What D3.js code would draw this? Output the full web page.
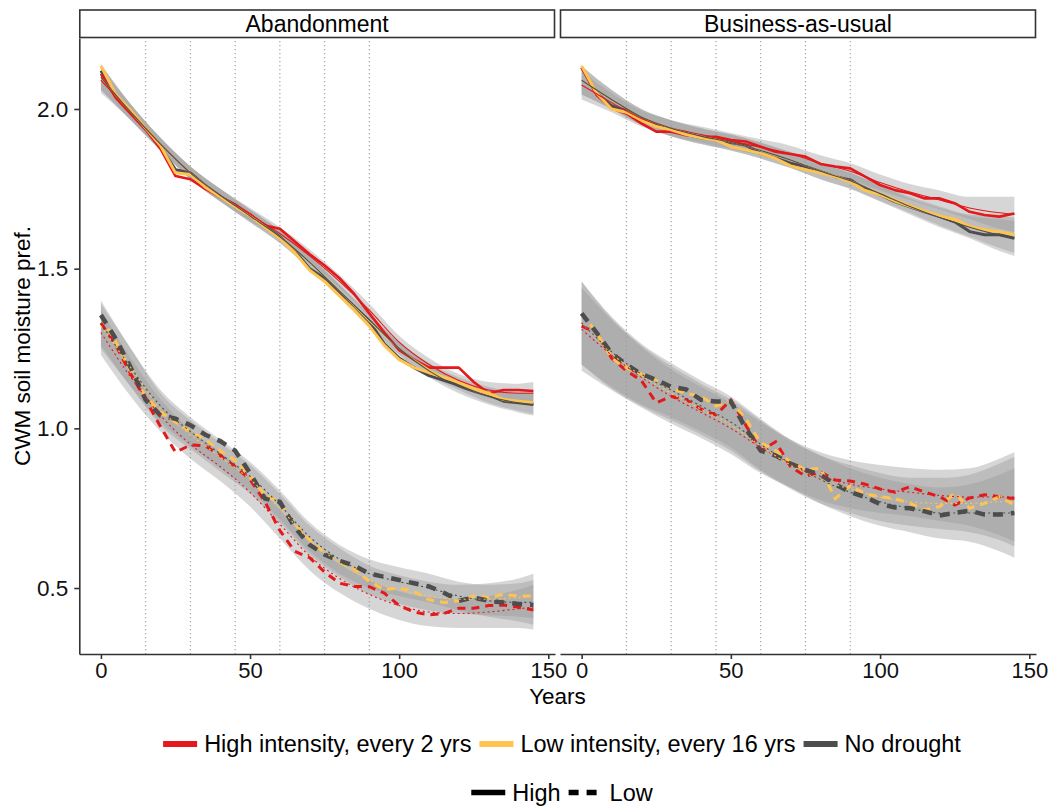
<!DOCTYPE html>
<html>
<head>
<meta charset="utf-8">
<script src="https://cdn.jsdelivr.net/npm/d3@7"></script>
<style>
  body { margin: 0; background: #fff; }
  svg { font-family: "Liberation Sans", Arial, sans-serif; }
</style>
</head>
<body>
<div id="chart"></div>
<script>
// time steps of the simulation (mean lines)
const years = [0, 5, 10, 15, 20, 25, 30, 35, 40, 45, 50, 55, 60, 65, 70, 75, 80, 85, 90, 95, 100, 105, 110, 115, 120, 125, 130, 135, 140, 145];
const fitYears = [0, 10, 20, 30, 40, 50, 60, 70, 80, 90, 100, 110, 120, 130, 140, 145];

const panelNames = ["Abandonment", "Business-as-usual"];
const scenarios = ["High intensity, every 2 yrs", "Low intensity, every 16 yrs", "No drought"];
const levels = ["High", "Low"];
const xTicks = [0, 50, 100, 150];
const yTicks = [0.5, 1.0, 1.5, 2.0];
const vlineYears = [15, 30, 45, 60, 75, 90];

// ---- Abandonment, High ----
const abnHighRed = [2.11, 2.035, 1.985, 1.935, 1.875, 1.79, 1.78, 1.75, 1.725, 1.70, 1.67, 1.635, 1.625, 1.585, 1.545, 1.51, 1.47, 1.42, 1.36, 1.30, 1.245, 1.215, 1.19, 1.19, 1.19, 1.145, 1.11, 1.12, 1.12, 1.117];
const abnHighYellow = [2.135, 2.045, 1.995, 1.94, 1.885, 1.80, 1.795, 1.755, 1.725, 1.695, 1.665, 1.63, 1.595, 1.55, 1.495, 1.46, 1.415, 1.37, 1.32, 1.26, 1.215, 1.19, 1.175, 1.16, 1.145, 1.125, 1.11, 1.09, 1.085, 1.08];
const abnHighGrey = [2.12, 2.04, 1.99, 1.94, 1.88, 1.81, 1.80, 1.76, 1.725, 1.70, 1.665, 1.635, 1.60, 1.555, 1.50, 1.47, 1.425, 1.38, 1.335, 1.265, 1.22, 1.19, 1.165, 1.15, 1.135, 1.12, 1.105, 1.085, 1.08, 1.075];
const abnHighRedFit = [2.09, 1.99, 1.89, 1.80, 1.73, 1.67, 1.61, 1.54, 1.46, 1.37, 1.27, 1.20, 1.15, 1.12, 1.11, 1.11];
const abnHighYellowFit = [2.10, 1.99, 1.89, 1.80, 1.73, 1.665, 1.60, 1.52, 1.43, 1.335, 1.25, 1.185, 1.14, 1.105, 1.085, 1.08];
const abnHighGreyFit = [2.10, 1.99, 1.89, 1.80, 1.73, 1.665, 1.60, 1.52, 1.43, 1.34, 1.25, 1.18, 1.13, 1.10, 1.08, 1.075];
const abnHighBand = [0.04, 0.025, 0.02, 0.02, 0.02, 0.02, 0.02, 0.02, 0.02, 0.02, 0.02, 0.02, 0.02, 0.025, 0.03, 0.035];

// ---- Abandonment, Low ----
const abnLowRed = [1.33, 1.26, 1.17, 1.09, 1.005, 0.925, 0.948, 0.945, 0.915, 0.88, 0.84, 0.77, 0.68, 0.615, 0.595, 0.55, 0.515, 0.505, 0.504, 0.484, 0.445, 0.425, 0.416, 0.42, 0.437, 0.437, 0.445, 0.447, 0.44, 0.431];
const abnLowYellow = [1.35, 1.27, 1.18, 1.10, 1.05, 1.02, 0.99, 0.965, 0.93, 0.90, 0.85, 0.79, 0.77, 0.70, 0.65, 0.61, 0.58, 0.56, 0.52, 0.495, 0.50, 0.49, 0.463, 0.455, 0.46, 0.475, 0.47, 0.48, 0.475, 0.475];
const abnLowGrey = [1.355, 1.28, 1.19, 1.09, 1.04, 1.03, 1.01, 0.98, 0.96, 0.93, 0.86, 0.78, 0.77, 0.69, 0.635, 0.605, 0.585, 0.57, 0.545, 0.535, 0.525, 0.515, 0.505, 0.485, 0.46, 0.47, 0.46, 0.455, 0.45, 0.447];
const abnLowRedFit = [1.30, 1.16, 1.04, 0.95, 0.88, 0.80, 0.70, 0.60, 0.53, 0.48, 0.445, 0.425, 0.42, 0.425, 0.435, 0.44];
const abnLowYellowFit = [1.32, 1.19, 1.06, 0.98, 0.91, 0.84, 0.75, 0.65, 0.58, 0.525, 0.495, 0.475, 0.465, 0.465, 0.47, 0.475];
const abnLowGreyFit = [1.33, 1.19, 1.07, 0.99, 0.92, 0.85, 0.76, 0.66, 0.59, 0.545, 0.52, 0.50, 0.475, 0.46, 0.455, 0.455];
const abnLowBand = [0.07, 0.06, 0.05, 0.045, 0.045, 0.045, 0.045, 0.045, 0.045, 0.045, 0.045, 0.045, 0.045, 0.05, 0.06, 0.07];

// ---- Business-as-usual, High ----
const bauHighRed = [2.13, 2.044, 2.002, 1.986, 1.955, 1.929, 1.929, 1.918, 1.913, 1.913, 1.903, 1.898, 1.882, 1.866, 1.859, 1.851, 1.828, 1.82, 1.814, 1.788, 1.762, 1.746, 1.736, 1.72, 1.72, 1.705, 1.678, 1.668, 1.663, 1.673];
const bauHighYellow = [2.135, 2.05, 2.00, 1.99, 1.965, 1.945, 1.935, 1.92, 1.91, 1.903, 1.882, 1.872, 1.861, 1.845, 1.822, 1.81, 1.80, 1.788, 1.772, 1.745, 1.731, 1.712, 1.695, 1.68, 1.665, 1.655, 1.632, 1.621, 1.616, 1.606];
const bauHighGrey = [2.13, 2.05, 2.01, 1.995, 1.97, 1.95, 1.935, 1.92, 1.91, 1.905, 1.895, 1.887, 1.861, 1.846, 1.83, 1.82, 1.804, 1.788, 1.778, 1.75, 1.731, 1.71, 1.694, 1.678, 1.663, 1.647, 1.616, 1.606, 1.606, 1.595];
const bauHighRedFit = [2.075, 2.02, 1.97, 1.94, 1.92, 1.90, 1.88, 1.86, 1.83, 1.805, 1.77, 1.74, 1.715, 1.69, 1.675, 1.67];
const bauHighYellowFit = [2.09, 2.03, 1.975, 1.94, 1.915, 1.895, 1.87, 1.84, 1.805, 1.775, 1.737, 1.70, 1.665, 1.635, 1.615, 1.605];
const bauHighGreyFit = [2.09, 2.03, 1.975, 1.94, 1.915, 1.895, 1.87, 1.84, 1.805, 1.775, 1.735, 1.695, 1.66, 1.63, 1.605, 1.595];
const bauHighBand = [0.045, 0.03, 0.025, 0.025, 0.025, 0.025, 0.025, 0.025, 0.025, 0.025, 0.025, 0.025, 0.03, 0.035, 0.05, 0.055];

// ---- Business-as-usual, Low ----
const bauLowRed = [1.32, 1.30, 1.22, 1.18, 1.15, 1.08, 1.10, 1.09, 1.06, 1.042, 1.089, 1.01, 0.93, 0.958, 0.88, 0.85, 0.864, 0.838, 0.835, 0.825, 0.81, 0.80, 0.817, 0.80, 0.786, 0.76, 0.782, 0.792, 0.786, 0.78];
const bauLowYellow = [1.36, 1.30, 1.22, 1.19, 1.17, 1.15, 1.125, 1.11, 1.10, 1.07, 1.085, 1.03, 0.955, 0.93, 0.895, 0.87, 0.875, 0.78, 0.82, 0.795, 0.786, 0.78, 0.765, 0.745, 0.755, 0.797, 0.75, 0.765, 0.786, 0.76];
const bauLowGrey = [1.36, 1.30, 1.235, 1.20, 1.17, 1.152, 1.13, 1.122, 1.089, 1.084, 1.084, 1.00, 0.93, 0.915, 0.89, 0.87, 0.855, 0.825, 0.80, 0.785, 0.763, 0.752, 0.75, 0.74, 0.727, 0.735, 0.742, 0.73, 0.73, 0.735];
const bauLowRedFit = [1.31, 1.23, 1.16, 1.10, 1.05, 1.00, 0.94, 0.89, 0.85, 0.825, 0.81, 0.80, 0.79, 0.785, 0.785, 0.785];
const bauLowYellowFit = [1.33, 1.235, 1.165, 1.11, 1.06, 1.01, 0.945, 0.885, 0.84, 0.81, 0.785, 0.77, 0.765, 0.765, 0.77, 0.77];
const bauLowGreyFit = [1.33, 1.24, 1.17, 1.12, 1.07, 1.02, 0.95, 0.89, 0.84, 0.80, 0.77, 0.75, 0.735, 0.735, 0.735, 0.735];
const bauLowBand = [0.13, 0.11, 0.095, 0.085, 0.08, 0.08, 0.08, 0.075, 0.075, 0.075, 0.075, 0.075, 0.08, 0.09, 0.12, 0.14];

// colours for the drought scenarios
const scenColors = ["#e3191c", "#fec44f", "#4d4d4d"];

// put the named arrays together per panel / level / scenario
const series = [
  { panel: 0, level: "High", scen: 0, values: abnHighRed, fit: abnHighRedFit, band: abnHighBand },
  { panel: 0, level: "High", scen: 1, values: abnHighYellow, fit: abnHighYellowFit, band: abnHighBand },
  { panel: 0, level: "High", scen: 2, values: abnHighGrey, fit: abnHighGreyFit, band: abnHighBand },
  { panel: 0, level: "Low", scen: 0, values: abnLowRed, fit: abnLowRedFit, band: abnLowBand },
  { panel: 0, level: "Low", scen: 1, values: abnLowYellow, fit: abnLowYellowFit, band: abnLowBand },
  { panel: 0, level: "Low", scen: 2, values: abnLowGrey, fit: abnLowGreyFit, band: abnLowBand },
  { panel: 1, level: "High", scen: 0, values: bauHighRed, fit: bauHighRedFit, band: bauHighBand },
  { panel: 1, level: "High", scen: 1, values: bauHighYellow, fit: bauHighYellowFit, band: bauHighBand },
  { panel: 1, level: "High", scen: 2, values: bauHighGrey, fit: bauHighGreyFit, band: bauHighBand },
  { panel: 1, level: "Low", scen: 0, values: bauLowRed, fit: bauLowRedFit, band: bauLowBand },
  { panel: 1, level: "Low", scen: 1, values: bauLowYellow, fit: bauLowYellowFit, band: bauLowBand },
  { panel: 1, level: "Low", scen: 2, values: bauLowGrey, fit: bauLowGreyFit, band: bauLowBand }
];

// ---- layout ----
const width = 1054, height = 809;
const plotTop = 38, plotBottom = 654;
const panelX = [[79.3, 555], [560, 1036]];

const svg = d3.select("#chart").append("svg")
  .attr("width", width)
  .attr("height", height);

const y = d3.scaleLinear().domain([0.2934, 2.2223]).range([plotBottom, plotTop]);
const xScales = panelX.map(r => d3.scaleLinear().domain([-7.25, 152.25]).range(r));

const axisColor = "#333333";

panelNames.forEach((name, p) => {
  const x = xScales[p];
  const [x0, x1] = panelX[p];
  const g = svg.append("g");

  // strip
  g.append("rect")
    .attr("x", x0 + 0.5).attr("y", 10)
    .attr("width", x1 - x0 - 1).attr("height", 27.5)
    .attr("fill", "#fff").attr("stroke", axisColor).attr("stroke-width", 1.6);
  g.append("text")
    .attr("x", (x0 + x1) / 2).attr("y", 32)
    .attr("text-anchor", "middle")
    .attr("font-size", 23)
    .text(name);

  // dotted drought markers
  g.selectAll(".vl").data(vlineYears).enter().append("line")
    .attr("x1", d => x(d)).attr("x2", d => x(d))
    .attr("y1", plotTop + 3).attr("y2", plotBottom)
    .attr("stroke", "#a6a6a6").attr("stroke-width", 1.2)
    .attr("stroke-dasharray", "1.3,2.7");

  const ps = series.filter(s => s.panel === p);

  // confidence ribbons of the smooth fits
  const area = d3.area()
    .x((d, i) => x(fitYears[i]))
    .y0(d => y(d[0] - d[1]))
    .y1(d => y(d[0] + d[1]))
    .curve(d3.curveMonotoneX);
  ps.forEach(s => {
    g.append("path")
      .datum(s.fit.map((v, i) => [v, s.band[i]]))
      .attr("d", area)
      .attr("fill", "#999999")
      .attr("fill-opacity", 0.4);
  });

  // mean lines
  const line = d3.line()
    .x((d, i) => x(years[i]))
    .y(d => y(d));
  const lowOrder = [0, 1, 2];
  const highOrder = [2, 0, 1];
  lowOrder.forEach(k => {
    const s = ps.find(d => d.level === "Low" && d.scen === k);
    g.append("path")
      .datum(s.values)
      .attr("d", line)
      .attr("fill", "none")
      .attr("stroke", scenColors[k])
      .attr("stroke-width", k === 2 ? 4.5 : 3)
      .attr("stroke-dasharray", k === 2 ? "10,8" : "8,6");
  });
  highOrder.forEach(k => {
    const s = ps.find(d => d.level === "High" && d.scen === k);
    g.append("path")
      .datum(s.values)
      .attr("d", line)
      .attr("fill", "none")
      .attr("stroke", scenColors[k])
      .attr("stroke-width", k === 0 ? 2.6 : 3)
      .attr("stroke-linejoin", "round");
  });

  // thin smooth lines
  const fitLine = d3.line()
    .x((d, i) => x(fitYears[i]))
    .y(d => y(d))
    .curve(d3.curveMonotoneX);
  ps.forEach(s => {
    g.append("path")
      .datum(s.fit)
      .attr("d", fitLine)
      .attr("fill", "none")
      .attr("stroke", scenColors[s.scen])
      .attr("stroke-width", 1.1)
      .attr("stroke-dasharray", s.level === "Low" ? "2,3" : null);
  });

  // x axis
  const xa = g.append("g")
    .attr("transform", `translate(0,${plotBottom})`)
    .call(d3.axisBottom(x).tickValues(xTicks).tickSize(5).tickSizeOuter(0).tickPadding(3));
  xa.select(".domain").attr("stroke", axisColor).attr("stroke-width", 1.6);
  xa.selectAll(".tick line").attr("stroke", axisColor).attr("stroke-width", 1.6);
  xa.selectAll(".tick text").attr("font-size", 22).attr("fill", "#111");

  // y axis only on the first panel
  if (p === 0) {
    const ya = g.append("g")
      .attr("transform", `translate(${x0},0)`)
      .call(d3.axisLeft(y).tickValues(yTicks).tickFormat(d3.format(".1f")).tickSize(5).tickSizeOuter(0).tickPadding(6));
    ya.select(".domain").attr("stroke", axisColor).attr("stroke-width", 1.6);
    ya.selectAll(".tick line").attr("stroke", axisColor).attr("stroke-width", 1.6);
    ya.selectAll(".tick text").attr("font-size", 22.5).attr("fill", "#111");
  }
});

svg.selectAll("g[font-family]").attr("font-family", "Liberation Sans, Arial, sans-serif");

// axis titles
svg.append("text")
  .attr("x", 557.5).attr("y", 704)
  .attr("text-anchor", "middle")
  .attr("font-size", 22.5)
  .text("Years");
svg.append("text")
  .attr("transform", "translate(30,346) rotate(-90)")
  .attr("text-anchor", "middle")
  .attr("font-size", 22.5)
  .text("CWM soil moisture pref.");

// ---- legends ----
const legendCenter = 562;
function legendRow(items, keyY, baseY) {
  const g = svg.append("g");
  const keyW = 34, gapKT = 7, gapItem = 8;
  let cursor = 0;
  const placed = items.map(it => {
    const t = g.append("text").attr("font-size", 23.5).attr("y", baseY).text(it.label);
    const w = t.node().getComputedTextLength();
    const item = { it, t, start: cursor, w };
    cursor += keyW + gapKT + w + gapItem;
    return item;
  });
  const total = cursor - gapItem;
  const off = legendCenter - total / 2;
  placed.forEach(d => {
    g.append("line")
      .attr("x1", off + d.start).attr("x2", off + d.start + keyW)
      .attr("y1", keyY).attr("y2", keyY)
      .attr("stroke", d.it.color)
      .attr("stroke-width", d.it.width)
      .attr("stroke-dasharray", d.it.dash);
    d.t.attr("x", off + d.start + keyW + gapKT);
  });
}

legendRow(scenarios.map((s, i) => ({ label: s, color: scenColors[i], width: 6, dash: null })), 744, 752);
legendRow(levels.map(l => ({ label: l, color: "#000", width: 5.5, dash: l === "Low" ? "10,8" : null })), 792.5, 801);
</script>
</body>
</html>
